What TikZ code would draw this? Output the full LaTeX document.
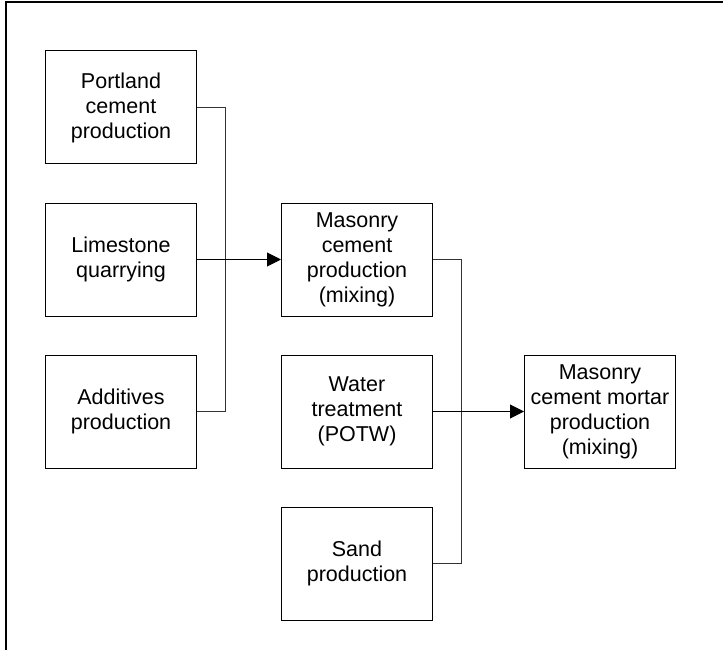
\documentclass[tikz,border=0pt]{standalone}
\usepackage{fontspec}
\setmainfont{Liberation Sans}
\usetikzlibrary{arrows.meta, positioning, calc}
\tikzset{
  procbox/.style={
    rectangle, draw=black, line width=1pt, fill=white,
    minimum width=151pt, minimum height=113pt, inner sep=0pt,
    align=center, font=\fontsize{21.5}{25}\selectfont
  },
  link/.style={line width=1pt, draw=black!80},
  flow/.style={link, draw=black, -{Triangle[length=14pt, width=14pt]}},
  frame/.style={line width=2pt, draw=black},
}

\begin{document}
\begin{tikzpicture}[node distance=38pt and 84pt]
  \useasboundingbox (0,0) rectangle (723pt,-650pt);

  % --- marco (solo arriba e izquierda) ---
  \coordinate (ftop) at (723pt,-2pt);
  \coordinate (fbot) at (6pt,-650pt);
  \draw[frame] (ftop) -| (fbot);

  % --- Columna izquierda: insumos del cemento ---
  \node (port) [procbox] at (121pt,-107.5pt) {Portland\\cement\\production};
  \node (lime) [procbox, below=of port]      {Limestone\\quarrying};
  \node (add)  [procbox, below=of lime]      {Additives\\production};

  % --- Columna central ---
  \node (mcem)  [procbox, right=of lime]  {Masonry\\cement\\production\\(mixing)};
  \node (water) [procbox, below=of mcem]  {Water\\treatment\\(POTW)};
  \node (sand)  [procbox, below=of water] {Sand\\production};

  % --- Producto final ---
  \node (mortar) [procbox, right=91pt of water] {Masonry\\cement mortar\\production\\(mixing)};

  % --- Uniones ---
  \coordinate (jin)  at ($(lime.east)+(28.5pt,0)$);
  \coordinate (jout) at ($(water.east)+(28.5pt,0)$);
  \draw[link] (port.east) -| (jin);
  \draw[link] (add.east)  -| (jin);
  \draw[flow] (lime) -- (mcem);
  \draw[link] (mcem.east) -| (jout);
  \draw[link] (sand.east) -| (jout);
  \draw[flow] (water) -- (mortar);

\end{tikzpicture}
\end{document}
